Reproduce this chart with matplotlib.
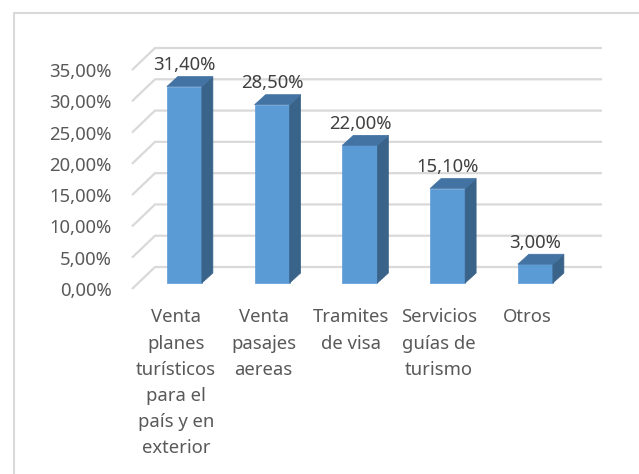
import numpy as np
import matplotlib
matplotlib.use('Agg')
import matplotlib.pyplot as plt
from matplotlib.patches import Polygon, Rectangle

plt.rcParams['font.family'] = ['Noto Sans', 'DejaVu Sans']

# datos del grafico
categorias = ['Venta\nplanes\nturísticos\npara el\npaís y en\nexterior',
              'Venta\npasajes\naereas',
              'Tramites\nde visa',
              'Servicios\nguías de\nturismo',
              'Otros']
valores = [31.4, 28.5, 22.0, 15.1, 3.0]
ticks_y = [0, 5, 10, 15, 20, 25, 30, 35]

W, H = 639, 474
fig = plt.figure(figsize=(W / 100, H / 100), dpi=100)

# plano frontal del grafico (en pixeles)
px_izq, px_cat = 132, 87.75
py_cero, py_pct = 289, 6.257
ax = fig.add_axes([px_izq / W, (H - py_cero) / H,
                   5 * px_cat / W, 35 * py_pct / H])
ax.set_xlim(-0.5, 4.5)
ax.set_ylim(0, 35)
for s in ax.spines.values():
    s.set_visible(False)

# pixeles -> unidades de datos
def dx(p):
    return p / px_cat

def dy(p):
    return p / py_pct

prof_x, prof_y = dx(23), dy(22)      # profundidad del piso
x_der = dx(602 - px_izq) - 0.5       # borde derecho de la pared trasera
gris = '#d9d9d9'

# lineas de division (pared lateral + pared trasera)
for v in ticks_y:
    ax.plot([-0.5, -0.5 + prof_x, x_der], [v, v + prof_y, v + prof_y],
            color=gris, lw=1.6, clip_on=False, zorder=1, solid_capstyle='butt')

# barras 3D
ancho = dx(35)
off_x, off_y = dx(8.5), dy(6)        # cara frontal dentro del piso
lado_x, lado_y = dx(11), dy(10)      # profundidad de la barra
x = np.arange(len(valores))
izq = x - ancho / 2 + off_x
ax.bar(x + off_x, valores, ancho, bottom=off_y, color='#5b9bd5',
       edgecolor='#5b9bd5', lw=0.5, zorder=3, clip_on=False)
for xi, v in zip(izq, valores):
    top = v + off_y
    lado = Polygon([(xi + ancho, off_y), (xi + ancho + lado_x, off_y + lado_y),
                    (xi + ancho + lado_x, top + lado_y), (xi + ancho, top)],
                   closed=True, fc='#3a6389', ec='#3a6389', lw=0.5, zorder=3, clip_on=False)
    tapa = Polygon([(xi, top), (xi + lado_x, top + lado_y),
                    (xi + ancho + lado_x, top + lado_y), (xi + ancho, top)],
                   closed=True, fc='#4373a3', ec='#4373a3', lw=0.5, zorder=3, clip_on=False)
    ax.add_patch(lado)
    ax.add_patch(tapa)

# etiquetas de datos
for xi, v in zip(x, valores):
    ax.annotate('{:.2f}%'.format(v).replace('.', ','),
                xy=(xi + off_x, v + off_y), xytext=(0, 15.5), textcoords='offset points',
                ha='center', va='center', fontsize=13.3, color='#404040', zorder=4)

# ejes
ax.set_yticks(ticks_y)
ax.set_yticklabels(['{:.2f}%'.format(t).replace('.', ',') for t in ticks_y])
ax.set_xticks(x)
ax.set_xticklabels(categorias, linespacing=1.58)
ax.tick_params(axis='y', length=0, pad=14.4, labelsize=13.3, labelcolor='#595959')
ax.tick_params(axis='x', length=0, pad=14, labelsize=13.3, labelcolor='#595959')

# borde del area del grafico
fig.add_artist(Rectangle((14 / W, -0.05), 1.1, 1 - 13 / H + 0.05,
                         transform=fig.transFigure, fill=False,
                         ec=gris, lw=1.5))

plt.savefig('out.png', dpi=100)
